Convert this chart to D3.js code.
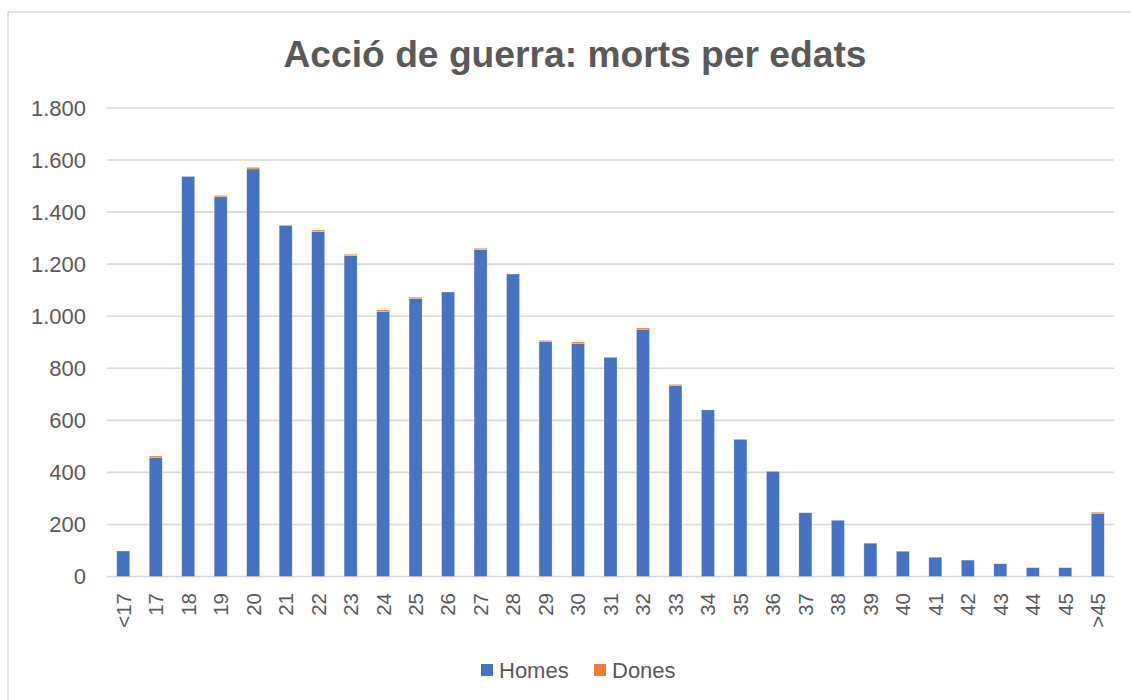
<!DOCTYPE html>
<meta charset="utf-8">
<html>
<head>
<style>
  body { margin: 0; background: #fff; }
  text { font-family: "Liberation Sans", Arial, sans-serif; fill: #595959; }
</style>
</head>
<body>
<div id="chart"></div>
<script src="https://d3js.org/d3.v7.min.js"></script>
<script>

// data
var ages = ["<17","17","18","19","20","21","22","23","24","25","26","27","28","29","30",
            "31","32","33","34","35","36","37","38","39","40","41","42","43","44","45",">45"];
var homes = [98, 458, 1537, 1459, 1566, 1349, 1326, 1233, 1019, 1068, 1093, 1256, 1162, 902, 896,
             842, 950, 733, 640, 527, 404, 245, 216, 128, 97, 74, 63, 49, 34, 34, 243];
var dones = [0, 5, 0, 5, 6, 0, 5, 5, 5, 5, 0, 5, 0, 5, 5,
             0, 5, 5, 0, 0, 0, 0, 0, 0, 0, 0, 0, 0, 0, 0, 4];
var yTicks = [0, 200, 400, 600, 800, 1000, 1200, 1400, 1600, 1800];
var seriesNames = ["Homes", "Dones"];
var colors = ["#4472C4", "#ED7D31"];

var W = 1131, H = 700;
var plot = {left: 107, right: 1114, top: 108, bottom: 576.5};

var svg = d3.select("#chart").append("svg")
    .attr("width", W)
    .attr("height", H);

// chart area border
svg.append("rect")
    .attr("x", 8).attr("y", 12)
    .attr("width", W + 20).attr("height", H + 20)
    .attr("fill", "none")
    .attr("stroke", "#d9d9d9")
    .attr("stroke-width", 1.5);

var x = d3.scaleBand()
    .domain(ages)
    .range([plot.left, plot.right])
    .paddingInner(0.6)
    .paddingOuter(0.3);

var y = d3.scaleLinear()
    .domain([0, 1800])
    .range([plot.bottom, plot.top]);

// gridlines
svg.append("g")
  .selectAll("line")
  .data(yTicks)
  .enter().append("line")
    .attr("x1", plot.left)
    .attr("x2", plot.right)
    .attr("y1", function(d) { return y(d); })
    .attr("y2", function(d) { return y(d); })
    .attr("stroke", "#d9d9d9")
    .attr("stroke-width", 1.6);

// y labels
var fmt = d3.formatLocale({decimal: ",", thousands: ".", grouping: [3], currency: ["", "€"]}).format(",");
svg.append("g")
  .selectAll("text")
  .data(yTicks)
  .enter().append("text")
    .attr("x", 86)
    .attr("y", function(d) { return y(d); })
    .attr("dy", "0.36em")
    .attr("text-anchor", "end")
    .style("font-size", "22px")
    .text(function(d) { return fmt(d); });

// stacked bars
var rows = ages.map(function(a, i) { return {age: a, Homes: homes[i], Dones: dones[i]}; });
var stack = d3.stack().keys(seriesNames)(rows);

svg.append("g")
  .selectAll("g")
  .data(stack)
  .enter().append("g")
    .attr("fill", function(d, i) { return colors[i]; })
  .selectAll("rect")
  .data(function(d) { return d.filter(function(p) { return p[1] > p[0]; }); })
  .enter().append("rect")
    .attr("x", function(d) { return x(d.data.age); })
    .attr("y", function(d) { return y(d[1]); })
    .attr("width", x.bandwidth())
    .attr("height", function(d) { return y(d[0]) - y(d[1]); })
    .attr("stroke", "#ffffff")
    .attr("stroke-opacity", 0.45)
    .attr("stroke-width", 0.6);

// x labels, rotated
svg.append("g")
  .selectAll("text")
  .data(ages)
  .enter().append("text")
    .attr("transform", function(d) {
      return "translate(" + (x(d) + x.bandwidth() / 2) + ",593) rotate(-90)";
    })
    .attr("dy", "0.36em")
    .attr("text-anchor", "end")
    .style("font-size", "20.5px")
    .text(function(d) { return d; });

// title
svg.append("text")
    .attr("x", 575)
    .attr("y", 67)
    .attr("text-anchor", "middle")
    .attr("textLength", 583)
    .attr("lengthAdjust", "spacingAndGlyphs")
    .style("font-size", "36px")
    .style("font-weight", "bold")
    .text("Acció de guerra: morts per edats");

// legend
var legendX = [481, 594];
var legend = svg.append("g")
  .selectAll("g")
  .data(seriesNames)
  .enter().append("g")
    .attr("transform", function(d, i) { return "translate(" + legendX[i] + ",664)"; });
legend.append("rect")
    .attr("width", 12)
    .attr("height", 12)
    .attr("fill", function(d, i) { return colors[i]; });
legend.append("text")
    .attr("x", 18)
    .attr("y", 13.5)
    .style("font-size", "22px")
    .text(function(d) { return d; });

</script>
</body>
</html>
